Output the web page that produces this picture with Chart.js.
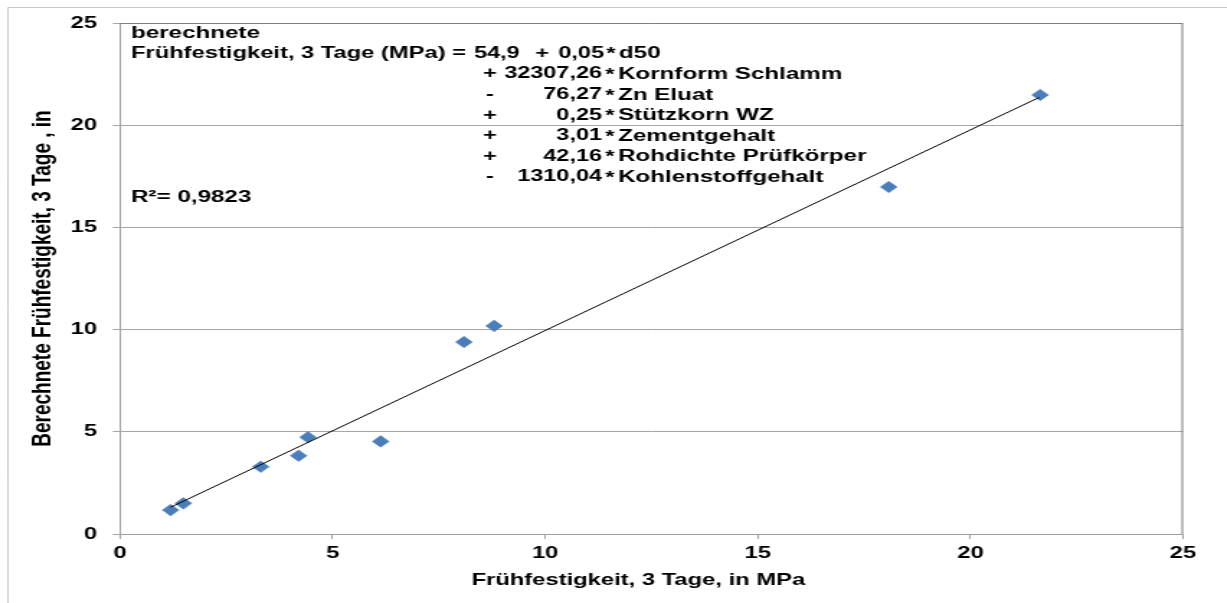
<!DOCTYPE html>
<html>
<head>
<meta charset="utf-8">
<script src="https://cdn.jsdelivr.net/npm/chart.js@4.4.1/dist/chart.umd.min.js"></script>
<style>
  html, body { margin: 0; padding: 0; background: #ffffff; overflow: hidden; }
  #wrap { position: absolute; left: 0; top: 0; width: 852px; height: 603px; transform: scaleX(1.44); transform-origin: 0 0; }
</style>
</head>
<body>
<div id="wrap"><canvas id="c" width="852" height="603"></canvas></div>
<script>
// ---- data ----
const measuredX   = [1.19, 1.49, 3.31, 4.20, 4.42, 6.13, 8.09, 8.80, 18.08, 21.64];
const calculatedY = [1.17, 1.50, 3.29, 3.83, 4.73, 4.53, 9.39, 10.18, 16.98, 21.48];
const trendX = [1.19, 21.62];
const trendY = [1.31, 21.36];
const xTicks = [0, 5, 10, 15, 20, 25];
const yTicks = [0, 5, 10, 15, 20, 25];

const xTitle = 'Frühfestigkeit, 3 Tage, in MPa';
const yTitle = 'Berechnete Frühfestigkeit, 3 Tage , in';

const eqHead1 = 'berechnete';
const eqHead2 = 'Frühfestigkeit, 3 Tage (MPa) =';
const eqFirst = ['54,9', '+', '0,05', 'd50'];
const eqSigns  = ['+', '-', '+', '+', '+', '-'];
const eqCoeffs = ['32307,26', '76,27', '0,25', '3,01', '42,16', '1310,04'];
const eqTerms  = ['Kornform Schlamm', 'Zn Eluat', 'Stützkorn WZ', 'Zementgehalt', 'Rohdichte Prüfkörper', 'Kohlenstoffgehalt'];
const r2Text = 'R²= 0,9823';

// ---- layout helpers ----
const S = 1.44;               // horizontal stretch of the reference
const W = 852, H = 603;
const px = v => v / S;        // reference x pixel -> canvas x
const FONT = '"Liberation Sans", Arial, Helvetica, sans-serif';

const decor = {
  id: 'decor',
  beforeDraw(chart) {
    const ctx = chart.ctx;
    ctx.save();
    ctx.fillStyle = '#ffffff';
    ctx.fillRect(0, 0, W, H);
    ctx.strokeStyle = '#c8c8c8';
    ctx.lineWidth = 1;
    ctx.beginPath();
    ctx.moveTo(px(8), H + 5);
    ctx.lineTo(px(8), 7.5);
    ctx.lineTo(W + 5, 7.5);
    ctx.stroke();
    ctx.restore();
  },
  beforeDatasetsDraw(chart) {
    const ctx = chart.ctx, a = chart.chartArea;
    ctx.save();
    ctx.strokeStyle = '#7f7f7f';
    ctx.lineWidth = 1;
    ctx.beginPath();
    ctx.moveTo(a.left, a.top + 0.5);
    ctx.lineTo(a.right - 0.5, a.top + 0.5);
    ctx.lineTo(a.right - 0.5, a.bottom);
    ctx.stroke();
    ctx.restore();
  },
  afterDraw(chart) {
    const ctx = chart.ctx;
    const wordFont = 'bold 16.8px ' + FONT;
    const numFont = 'bold 16.3px ' + FONT;
    ctx.save();
    ctx.fillStyle = '#000000';
    ctx.textBaseline = 'middle';
    const rows = [33, 53.5, 74, 95, 115.5, 136, 156.5, 177];
    ctx.font = wordFont;
    ctx.textAlign = 'left';
    ctx.fillText(eqHead1, px(131), rows[0]);
    ctx.fillText(eqHead2, px(131), rows[1], px(335));
    // first line of the equation
    ctx.font = numFont;
    ctx.fillText(eqFirst[0], px(474), rows[1]);
    ctx.textAlign = 'center';
    ctx.fillText(eqFirst[1], px(542), rows[1]);
    ctx.textAlign = 'right';
    ctx.fillText(eqFirst[2], px(604), rows[1]);
    ctx.font = wordFont;
    ctx.textAlign = 'center';
    ctx.fillText('*', px(611), rows[1] + 1);
    ctx.textAlign = 'left';
    ctx.fillText(eqFirst[3], px(619), rows[1]);
    for (let i = 0; i < eqSigns.length; i++) {
      const y = rows[i + 2];
      ctx.font = numFont;
      ctx.textAlign = 'center';
      ctx.fillText(eqSigns[i], px(490), y);
      ctx.textAlign = 'right';
      ctx.fillText(eqCoeffs[i], px(602), y);
      ctx.font = wordFont;
      ctx.textAlign = 'center';
      ctx.fillText('*', px(610), y + 1);
      ctx.textAlign = 'left';
      ctx.fillText(eqTerms[i], px(618), y);
    }
    ctx.fillText(r2Text, px(131), 197.5);
    ctx.restore();
  }
};

new Chart(document.getElementById('c'), {
  type: 'scatter',
  data: {
    datasets: [
      {
        label: 'Werte',
        data: measuredX.map((x, i) => ({ x: x, y: calculatedY[i] })),
        pointStyle: 'rectRot',
        pointRadius: 5.8,
        pointHoverRadius: 5.8,
        backgroundColor: '#4a7ebb',
        borderColor: '#4a7ebb',
        borderWidth: 0.5,
        order: 1
      },
      {
        label: 'Trend',
        type: 'line',
        data: trendX.map((x, i) => ({ x: x, y: trendY[i] })),
        showLine: true,
        borderColor: '#000000',
        borderWidth: 1,
        pointRadius: 0,
        fill: false,
        order: 0
      }
    ]
  },
  options: {
    responsive: false,
    animation: false,
    devicePixelRatio: 1,
    layout: { padding: { top: 23, right: W - px(1183), bottom: 0, left: 0 } },
    plugins: { legend: { display: false }, tooltip: { enabled: false } },
    scales: {
      x: {
        type: 'linear',
        min: xTicks[0],
        max: xTicks[xTicks.length - 1],
        afterBuildTicks: s => { s.ticks = xTicks.map(v => ({ value: v })); },
        afterFit: s => { s.height = H - 534; },
        ticks: {
          color: '#000000',
          font: { family: FONT, size: 16.5, weight: 'bold' },
          padding: 5,
          maxRotation: 0,
          callback: v => String(v)
        },
        grid: { drawOnChartArea: false, drawTicks: true, tickLength: 5, color: '#a0a0a0', lineWidth: 1 },
        border: { display: true, color: '#a0a0a0', width: 1 },
        title: {
          display: true,
          text: xTitle + '    ',
          color: '#000000',
          font: { family: FONT, size: 16.5, weight: 'bold' },
          padding: { top: 0, bottom: 13 }
        }
      },
      y: {
        type: 'linear',
        min: yTicks[0],
        max: yTicks[yTicks.length - 1],
        afterBuildTicks: s => { s.ticks = yTicks.map(v => ({ value: v })); },
        afterFit: s => { s.width = px(120); },
        ticks: {
          color: '#000000',
          font: { family: FONT, size: 16.5, weight: 'bold' },
          padding: 11,
          callback: v => String(v)
        },
        grid: { drawOnChartArea: true, drawTicks: true, tickLength: 5, color: '#a6a6a6', lineWidth: 1 },
        border: { display: true, color: '#a0a0a0', width: 1 },
        title: {
          display: true,
          text: yTitle,
          color: '#000000',
          font: { family: FONT, size: 19, weight: 'bold' },
          padding: { top: 18, bottom: 0 }
        }
      }
    }
  },
  plugins: [decor]
});
</script>
</body>
</html>
